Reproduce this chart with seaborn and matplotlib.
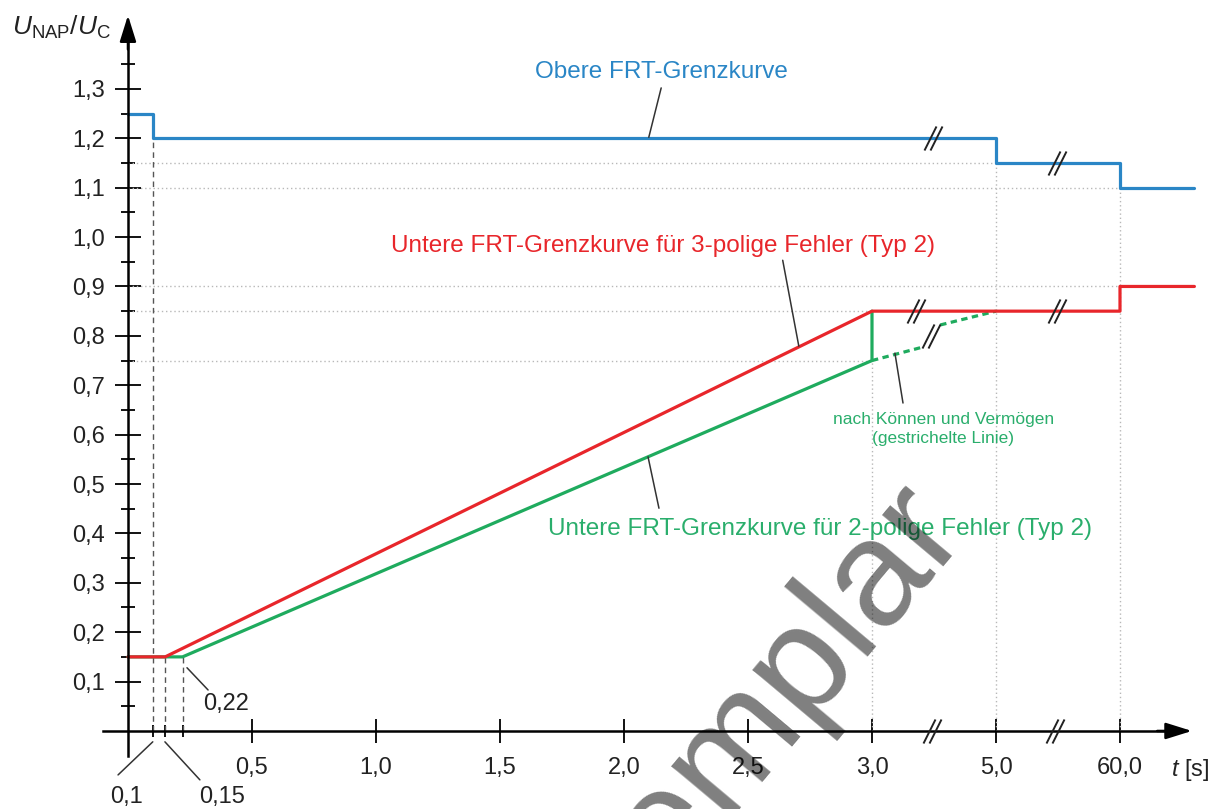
import numpy as np
import matplotlib
matplotlib.use("Agg")
import matplotlib.pyplot as plt
import seaborn as sns
from matplotlib.path import Path

# ---------------- data ----------------
t_upper = [0, 0.1, 0.1, 5, 5, 60, 60, 66]
u_upper = [1.25, 1.25, 1.20, 1.20, 1.15, 1.15, 1.10, 1.10]

t_lower3 = [0, 0.15, 3, 60, 60, 66]
u_lower3 = [0.15, 0.15, 0.85, 0.85, 0.90, 0.90]

t_lower2 = [0, 0.22, 3, 3]
u_lower2 = [0.15, 0.15, 0.75, 0.85]

t_dash_a = [3, 3.81]
u_dash_a = [0.75, 0.777]
t_dash_b = [4.10, 5]
u_dash_b = [0.822, 0.85]

x_major = [0.5, 1.0, 1.5, 2.0, 2.5, 3.0, 5.0, 60.0]
x_major_labels = ["0,5", "1,0", "1,5", "2,0", "2,5", "3,0", "5,0", "60,0"]
x_minor = [0.1, 0.15, 0.22]
x_minor_labels = ["0,1", "0,15", "0,22"]
y_major = [0.1, 0.2, 0.3, 0.4, 0.5, 0.6, 0.7, 0.8, 0.9, 1.0, 1.1, 1.2, 1.3]
y_major_labels = ["0,1", "0,2", "0,3", "0,4", "0,5", "0,6", "0,7", "0,8", "0,9",
                  "1,0", "1,1", "1,2", "1,3"]
y_minor = [0.05, 0.15, 0.25, 0.35, 0.45, 0.55, 0.65, 0.75, 0.85, 0.95,
           1.05, 1.15, 1.25, 1.35]

# axis break breakpoints (t -> drawing position)
T_BP = [-10, 3, 5, 60, 100]
P_BP = [-10, 3, 3.5, 4.0, 6.0]

# break marks (t, u)
brk_axis = ([3.97, 31.2], [0, 0])
brk_upper = ([3.98, 32.0], [1.20, 1.15])
brk_lower3 = ([3.71, 32.0], [0.85, 0.85])
brk_dash = ([3.95], [0.80])

BLUE = "#2a86c6"
RED = "#e8262b"
GREEN = "#1fab5e"
GREEN_T = "#2aae6c"
GRAY_DOT = "#b8b8b8"

# ---------------- style ----------------
sns.set_theme(style="white")
plt.rcParams["font.family"] = ["Liberation Sans", "DejaVu Sans"]
plt.rcParams["mathtext.fontset"] = "custom"
plt.rcParams["mathtext.rm"] = "Liberation Sans"
plt.rcParams["mathtext.it"] = "Liberation Sans:italic"
plt.rcParams["mathtext.bf"] = "Liberation Sans:bold"

fig = plt.figure(figsize=(12.13, 8.09), dpi=100)
ax = fig.add_axes([0, 0, 1, 1])
ax.set_facecolor("white")


def fwd(t):
    return np.interp(t, T_BP, P_BP)


def inv(p):
    return np.interp(p, P_BP, T_BP)


ax.set_xscale("function", functions=(fwd, inv))
ax.set_xlim(-0.516, 67.5)
ax.set_ylim(-0.158, 1.480)

# ---------------- reference lines ----------------
dot = dict(color=GRAY_DOT, lw=1.0, ls=(0, (1, 2)), zorder=1)
for lvl, tend in [(1.15, 5), (1.10, 60), (0.90, 60), (0.85, 3), (0.75, 3)]:
    ax.plot([0, tend], [lvl, lvl], **dot)
for tv, utop in [(3, 0.75), (5, 1.15), (60, 1.10)]:
    ax.plot([tv, tv], [0, utop], **dot)

dash = dict(color="#555555", lw=1.0, ls=(0, (4, 3)), zorder=1)
ax.plot([0.1, 0.1], [0, 1.20], **dash)
ax.plot([0.15, 0.15], [0, 0.15], **dash)
ax.plot([0.22, 0.22], [0, 0.15], **dash)

# ---------------- curves ----------------
sns.lineplot(x=t_lower2, y=u_lower2, sort=False, estimator=None, color=GREEN,
             lw=2.3, ax=ax, legend=False, zorder=3)
sns.lineplot(x=t_dash_a, y=u_dash_a, sort=False, estimator=None, color=GREEN,
             lw=2.3, ax=ax, legend=False, zorder=3, linestyle=(0, (2, 1.4)))
sns.lineplot(x=t_dash_b, y=u_dash_b, sort=False, estimator=None, color=GREEN,
             lw=2.3, ax=ax, legend=False, zorder=3, linestyle=(0, (2, 1.4)))
sns.lineplot(x=t_lower3, y=u_lower3, sort=False, estimator=None, color=RED,
             lw=2.3, ax=ax, legend=False, zorder=4)
sns.lineplot(x=t_upper, y=u_upper, sort=False, estimator=None, color=BLUE,
             lw=2.3, ax=ax, legend=False, zorder=4)

# break marks "//"
brk_path = Path([(-0.75, -1), (0.25, 1), (-0.25, -1), (0.75, 1)],
                [Path.MOVETO, Path.LINETO, Path.MOVETO, Path.LINETO])
for bx, by in [brk_axis, brk_upper, brk_lower3, brk_dash]:
    ax.plot(bx, by, ls="none", marker=brk_path, ms=17.3, mec="#222222",
            mew=1.4, mfc="none", zorder=6)

# ---------------- axes ----------------
for s in ["top", "right"]:
    ax.spines[s].set_visible(False)
for s in ["left", "bottom"]:
    ax.spines[s].set_position(("data", 0))
    ax.spines[s].set_linewidth(1.8)
    ax.spines[s].set_color("black")
    ax.spines[s].set_zorder(5)
ax.spines["left"].set_bounds(-0.05, 1.43)
ax.spines["bottom"].set_bounds(-0.1, 65.0)

ax.set_xticks(x_major)
ax.set_xticklabels(x_major_labels, fontsize=17, color="#222222")
ax.set_xticks(x_minor, minor=True)
ax.set_yticks(y_major)
ax.set_yticklabels(y_major_labels, fontsize=17, color="#222222")
ax.set_yticks(y_minor, minor=True)
ax.tick_params(axis="x", which="both", bottom=True, top=False)
ax.tick_params(axis="y", which="both", left=True, right=False)
ax.tick_params(axis="x", which="major", direction="inout", length=17.3,
               width=1.3, pad=10, color="black", labelcolor="#222222")
ax.tick_params(axis="x", which="minor", direction="inout", length=8.6,
               width=1.3, color="black")
ax.tick_params(axis="y", which="major", direction="inout", length=18.7,
               width=1.3, pad=7, color="black", labelcolor="#222222")
ax.tick_params(axis="y", which="minor", direction="inout", length=10,
               width=1.3, color="black")
ax.xaxis.set_minor_formatter(matplotlib.ticker.NullFormatter())
ax.yaxis.set_minor_formatter(matplotlib.ticker.NullFormatter())
ax.grid(False)

arrow = dict(arrowstyle="-|>,head_length=1.6,head_width=0.5", color="black",
             lw=1.8, shrinkA=0, shrinkB=0, mutation_scale=10)
ax.annotate("", xy=(0, 1.449), xytext=(0, 1.38), arrowprops=arrow,
            annotation_clip=False, zorder=6)
ax.annotate("", xy=(65.8, 0), xytext=(63.0, 0), arrowprops=arrow,
            annotation_clip=False, zorder=6)

ax.text(-0.468, 1.409, r"$U_{\mathrm{NAP}}/U_{\mathrm{C}}$", fontsize=19,
        ha="left", va="baseline", color="#222222")
ax.text(65.7, -0.079, r"$t$ [s]", fontsize=17, ha="center", va="center",
        color="#222222")

# leader labels for small ticks
lead = dict(color="#333333", lw=1.1, zorder=5)
ax.plot([0.1, -0.04], [-0.022, -0.089], **lead)
ax.plot([0.149, 0.29], [-0.022, -0.099], **lead)
ax.plot([0.238, 0.323], [0.128, 0.083], **lead)
ax.text(-0.004, -0.134, x_minor_labels[0], fontsize=17, ha="center",
        va="center", color="#222222")
ax.text(0.379, -0.134, x_minor_labels[1], fontsize=17, ha="center",
        va="center", color="#222222")
ax.text(0.395, 0.055, x_minor_labels[2], fontsize=17, ha="center",
        va="center", color="#222222")

# curve annotations
ax.plot([2.15, 2.10], [1.302, 1.202], **lead)
ax.text(2.153, 1.322, "Obere FRT-Grenzkurve", fontsize=17.5, color=BLUE,
        ha="center", va="baseline")
ax.plot([2.64, 2.705], [0.953, 0.779], **lead)
ax.text(2.158, 0.970, "Untere FRT-Grenzkurve für 3-polige Fehler (Typ 2)",
        fontsize=17.5, color=RED, ha="center", va="baseline")
ax.plot([2.097, 2.141], [0.555, 0.451], **lead)
ax.text(2.79, 0.397, "Untere FRT-Grenzkurve für 2-polige Fehler (Typ 2)",
        fontsize=17.5, color=GREEN_T, ha="center", va="baseline")
ax.plot([3.37, 3.5], [0.765, 0.664], **lead)
ax.text(4.15, 0.612, "nach Können und Vermögen\n(gestrichelte Linie)",
        fontsize=12.5, color=GREEN_T, ha="center", va="center",
        linespacing=1.35)

# watermark
fig.text(0.796, 0.351, "Exemplar", rotation=50, rotation_mode="anchor",
         ha="right", va="baseline", fontsize=109, color="black", alpha=0.5,
         family="Liberation Sans", zorder=20)

fig.savefig("out.png", dpi=100, facecolor="white")
